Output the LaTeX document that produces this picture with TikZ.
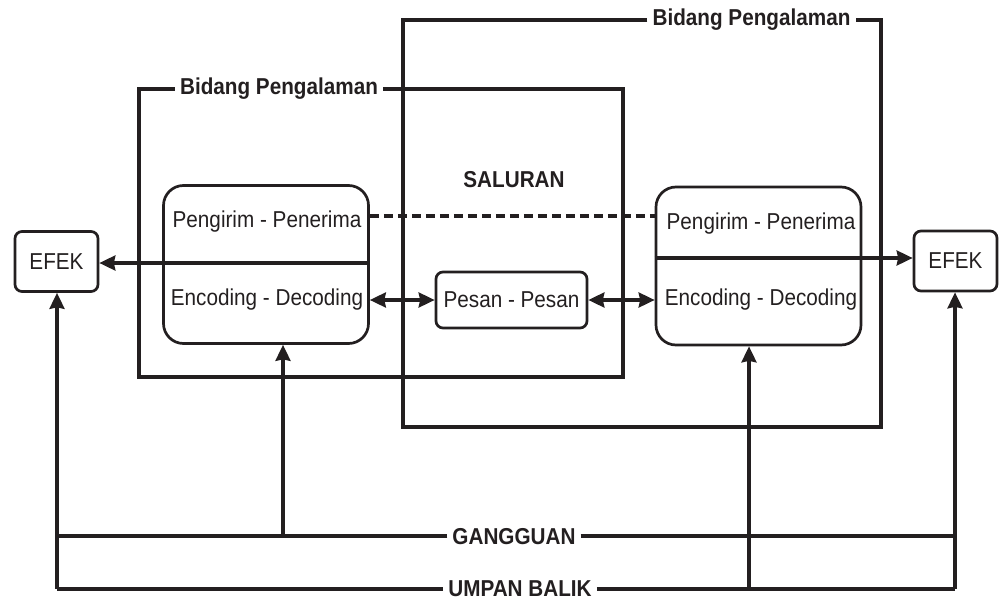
\documentclass[tikz,border=0pt]{standalone}
\usepackage{fontspec}
\setmainfont{Liberation Sans}[FakeStretch=0.9]
\usetikzlibrary{arrows.meta}
\definecolor{ink}{HTML}{231F20}
\begin{document}
\begin{tikzpicture}[x=1pt,y=-1pt,
  wire/.style={draw=ink,line width=3.1pt},
  lbl/.style={text=ink,font=\fontsize{23}{27}\selectfont,inner sep=0pt},
  hdr/.style={text=ink,font=\bfseries\fontsize{23}{27}\selectfont,inner xsep=5pt,inner ysep=0pt},
  bigbox/.style={draw=ink,line width=2.7pt,rounded corners=20pt,minimum width=205pt,minimum height=158pt,inner sep=0pt},
  efekbox/.style={draw=ink,line width=2.7pt,rounded corners=7pt,minimum width=83pt,minimum height=60pt,inner sep=0pt,text=ink,font=\fontsize{23}{27}\selectfont},
  pesanbox/.style={draw=ink,line width=2.7pt,rounded corners=7pt,minimum width=151pt,minimum height=56pt,inner sep=0pt,text=ink,font=\fontsize{23}{27}\selectfont},
  arr/.style={wire,-{Stealth[length=16pt,width=15pt,inset=1.5pt]}},
  darr/.style={wire,{Stealth[length=16pt,width=15pt,inset=1.5pt]}-{Stealth[length=16pt,width=15pt,inset=1.5pt]}},
  dash line/.style={wire,dash pattern=on 9pt off 5pt}]
\useasboundingbox (0,0) rectangle (1003,602);

% frame labels
\node[hdr] (bpL) at (279,89) {Bidang Pengalaman};
\node[hdr] (bpR) at (751.5,20) {Bidang Pengalaman};
\coordinate (fL1) at (139,89);
\coordinate (fL2) at (139,377);
\coordinate (fL3) at (623,377);
\coordinate (fL4) at (623,89);
\coordinate (fR1) at (403,18);
\coordinate (fR2) at (403,427);
\coordinate (fR3) at (881,427);
\coordinate (fR4) at (881,20);
\draw[wire] (bpL.west) -- (fL1) -- (fL2) -- (fL3) -- (fL4) -- (bpL.east);
\draw[wire] (bpR.west) -- (fR1 |- bpR.west) -- (fR2) -- (fR3) -- (fR4) -- (bpR.east);

\node[hdr] (sal) at (514,180) {SALURAN};

% boxes
\node[bigbox] (boxL) at (266,264.5) {};
\node[bigbox] (boxR) at (758.5,266) {};
\node[lbl] (pL) at (267,222) {Pengirim - Penerima};
\node[lbl] (eL) at (267,300) {Encoding - Decoding};
\node[lbl] (pR) at (761,224) {Pengirim - Penerima};
\node[lbl] (eR) at (761,300) {Encoding - Decoding};
\node[efekbox] (efL) at (56.5,261.5) {EFEK};
\node[efekbox] (efR) at (955.5,261) {EFEK};
\node[pesanbox] (pes) at (511.5,300) {Pesan - Pesan};

% connectors
\draw[dash line] (boxL.east |- 0,216) -- (boxR.west |- 0,216);
\draw[arr] (boxL.east |- 0,263) -- (efL.east |- 0,263);
\draw[arr] (boxR.west |- 0,258) -- (efR.west |- 0,258);
\draw[darr] (boxL.east |- pes.west) -- (pes.west);
\draw[darr] (pes.east) -- (boxR.west |- pes.east);

% bottom lines
\node[hdr] (gang) at (514,537) {GANGGUAN};
\node[hdr] (umpan) at (520,589) {UMPAN BALIK};
\coordinate (gL) at (57,536);
\coordinate (gR) at (955,536);
\coordinate (uL) at (57,589);
\coordinate (uR) at (955,589);
\draw[wire] (gang.west |- gL) -- (gL);
\draw[wire] (gang.east |- gR) -- (gR);
\draw[wire] (umpan.west |- uL) -- (uL);
\draw[wire] (umpan.east |- uR) -- (uR);
\draw[arr] (uL) -- (efL.south -| uL);
\draw[arr] (uR) -- (efR.south -| uR);
\coordinate (gA) at (283,536);
\coordinate (uA) at (749,589);
\draw[arr] (gA) -- (boxL.south -| gA);
\draw[arr] (uA) -- (boxR.south -| uA);
\end{tikzpicture}
\end{document}
